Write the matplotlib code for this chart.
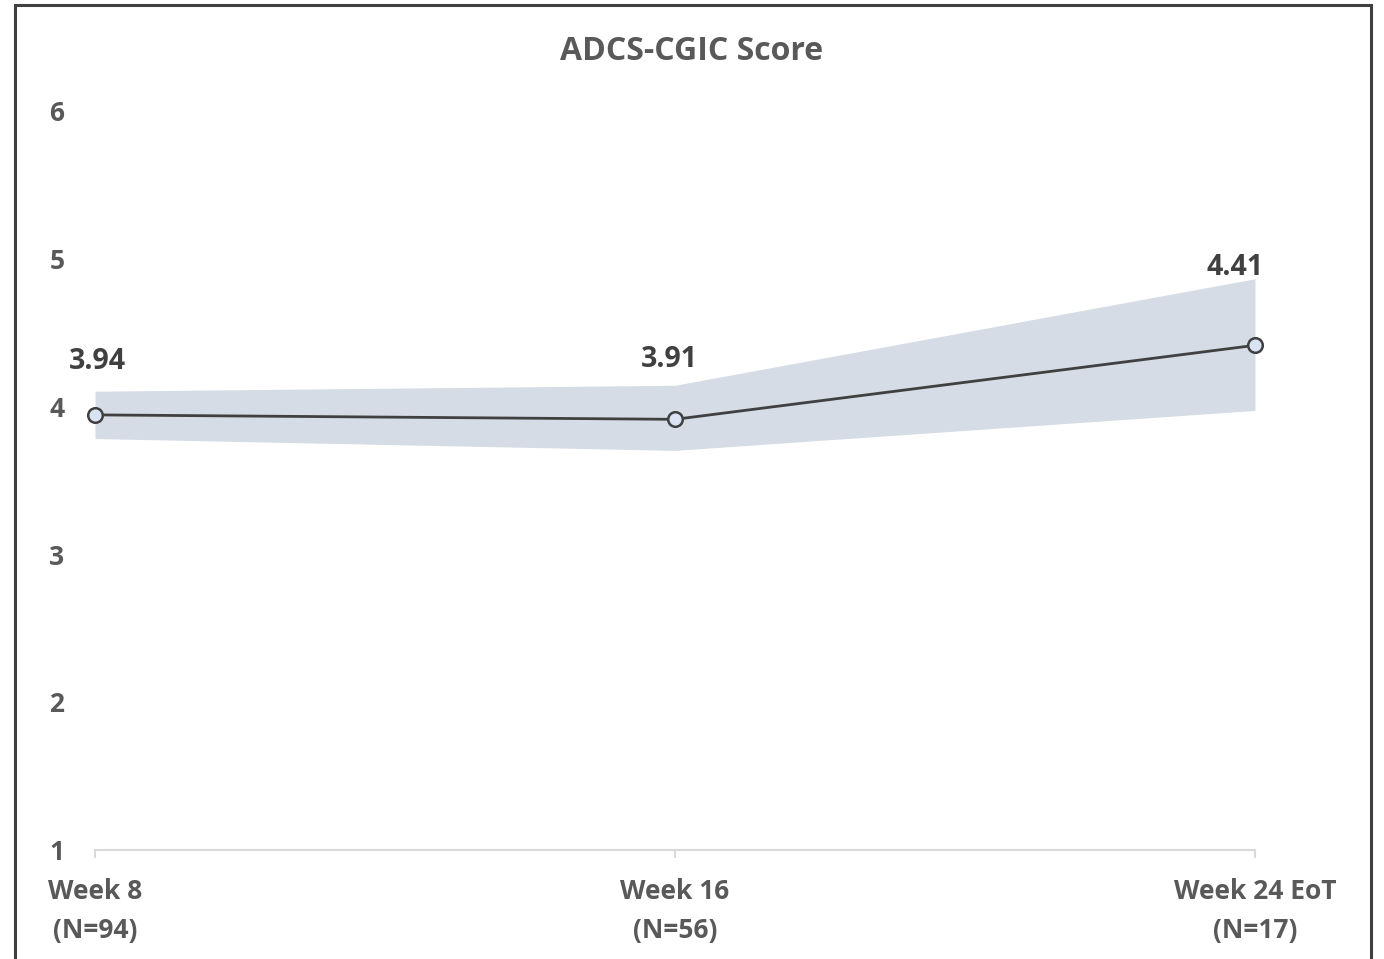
import matplotlib.pyplot as plt
from matplotlib.patches import Rectangle

categories = ["Week 8\n(N=94)", "Week 16\n(N=56)", "Week 24 EoT\n(N=17)"]
means = [3.94, 3.91, 4.41]
upper = [4.10, 4.14, 4.86]
lower = [3.78, 3.70, 3.97]
y_ticks = [1, 2, 3, 4, 5, 6]

GREY = "#595959"
plt.rcParams["font.family"] = ["Open Sans", "DejaVu Sans"]

fig = plt.figure(figsize=(13.84, 9.59), dpi=100)
ax = fig.add_axes([95 / 1384, 109 / 959, 1160 / 1384, 740 / 959])

x = list(range(len(categories)))
ax.fill_between(x, lower, upper, color="#d6dce5", linewidth=0, zorder=1)
ax.plot(x, means, color="#404040", linewidth=2, marker="o", markersize=10.5,
        markerfacecolor="#dae3f3", markeredgecolor="#404040",
        markeredgewidth=1.8, zorder=3, clip_on=False)

# data labels sit above the shaded band
label_offsets = [(2, 30), (-6, 26), (-20, 11)]
for xi, m, u, off in zip(x, means, upper, label_offsets):
    ax.annotate(f"{m:.2f}", (xi, u), xytext=off, textcoords="offset pixels",
                ha="center", va="center", fontsize=20.5, fontweight="bold",
                color="#404040")

ax.set_xlim(0, 2)
ax.set_ylim(1, 6)
ax.set_xticks(x)
ax.set_xticklabels(categories, fontsize=19, fontweight="bold", color=GREY,
                   linespacing=1.6)
ax.set_yticks(y_ticks)
ax.set_yticklabels([str(t) for t in y_ticks], fontsize=19, fontweight="bold",
                   color=GREY)
ax.tick_params(axis="y", length=0, pad=22)
ax.tick_params(axis="x", length=6, width=1.5, color="#d9d9d9", pad=14)
for side in ["top", "right", "left"]:
    ax.spines[side].set_visible(False)
ax.spines["bottom"].set_color("#d9d9d9")
ax.spines["bottom"].set_linewidth(1.5)

fig.text(0.5, 1 - 52 / 959, "ADCS-CGIC Score", ha="center", va="center",
         fontsize=23, fontweight="bold", color=GREY)

# chart-area border
fig.patches.append(Rectangle((15 / 1384, -0.05), 1356 / 1384, 1.05 - 5 / 959,
                             transform=fig.transFigure, fill=False,
                             edgecolor="#404040", linewidth=2.2))

fig.savefig("out.png", dpi=100)
